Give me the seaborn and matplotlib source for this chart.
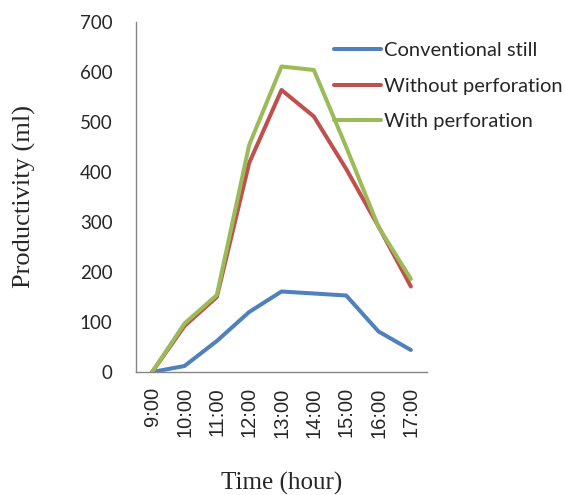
import matplotlib
matplotlib.use("Agg")
import matplotlib.pyplot as plt
import seaborn as sns
import pandas as pd

# Hourly distillate output of three solar stills
times = ["9:00", "10:00", "11:00", "12:00", "13:00", "14:00", "15:00", "16:00", "17:00"]
conventional = [0, 12, 62, 120, 161, 157, 153, 81, 44]
without_perforation = [0, 92, 150, 418, 564, 511, 406, 291, 171]
with_perforation = [0, 97, 154, 454, 611, 604, 450, 290, 186]

series_names = ["Conventional still", "Without perforation", "With perforation"]
palette = ["#4F81BD", "#C0504D", "#9BBB59"]

frames = []
for name, vals in zip(series_names, [conventional, without_perforation, with_perforation]):
    frames.append(pd.DataFrame({"Time": times, "Productivity": vals, "Series": name}))
df = pd.concat(frames, ignore_index=True)

sns.set_style("white")
fig = plt.figure(figsize=(5.65, 4.95), dpi=100)
ax = fig.add_axes([0.2407, 0.2485, 0.7558 - 0.2407, 0.9556 - 0.2485])

sns.lineplot(data=df, x="Time", y="Productivity", hue="Series",
             hue_order=series_names, palette=palette, linewidth=2.9,
             sort=False, ax=ax)

ax.set_xlim(-0.5, 8.5)
ax.set_ylim(0, 700)
ax.set_yticks(range(0, 701, 100))
ax.set_xticks(range(len(times)))
ax.set_xticklabels(times, rotation=90, fontfamily="Liberation Sans", fontsize=14.5)
for lab in ax.get_yticklabels():
    lab.set_fontfamily("Lato")
    lab.set_fontsize(13.5)
ax.tick_params(axis="y", length=0, pad=17)
ax.tick_params(axis="x", length=0, pad=11)

for side in ["top", "right"]:
    ax.spines[side].set_visible(False)
for side in ["left", "bottom"]:
    ax.spines[side].set_color("#868686")
    ax.spines[side].set_linewidth(1.0)

ax.set_xlabel("Time (hour)", fontfamily="Liberation Serif", fontsize=18)
ax.set_ylabel("Productivity (ml)", fontfamily="Liberation Serif", fontsize=19)
ax.xaxis.set_label_coords(0.5, -0.285)
ax.yaxis.set_label_coords(-0.345, 0.5)

handles, labels = ax.get_legend_handles_labels()
leg = ax.legend(handles, labels, loc="upper left", bbox_to_anchor=(334 / 565, 1 - 42 / 495),
                bbox_transform=fig.transFigure, frameon=False, handlelength=2.35,
                handletextpad=0.15, labelspacing=0.92, borderaxespad=0, borderpad=0,
                prop={"family": "Lato", "size": 14.5})
for line in leg.get_lines():
    line.set_linewidth(2.9)

fig.savefig("out.png", dpi=100)
